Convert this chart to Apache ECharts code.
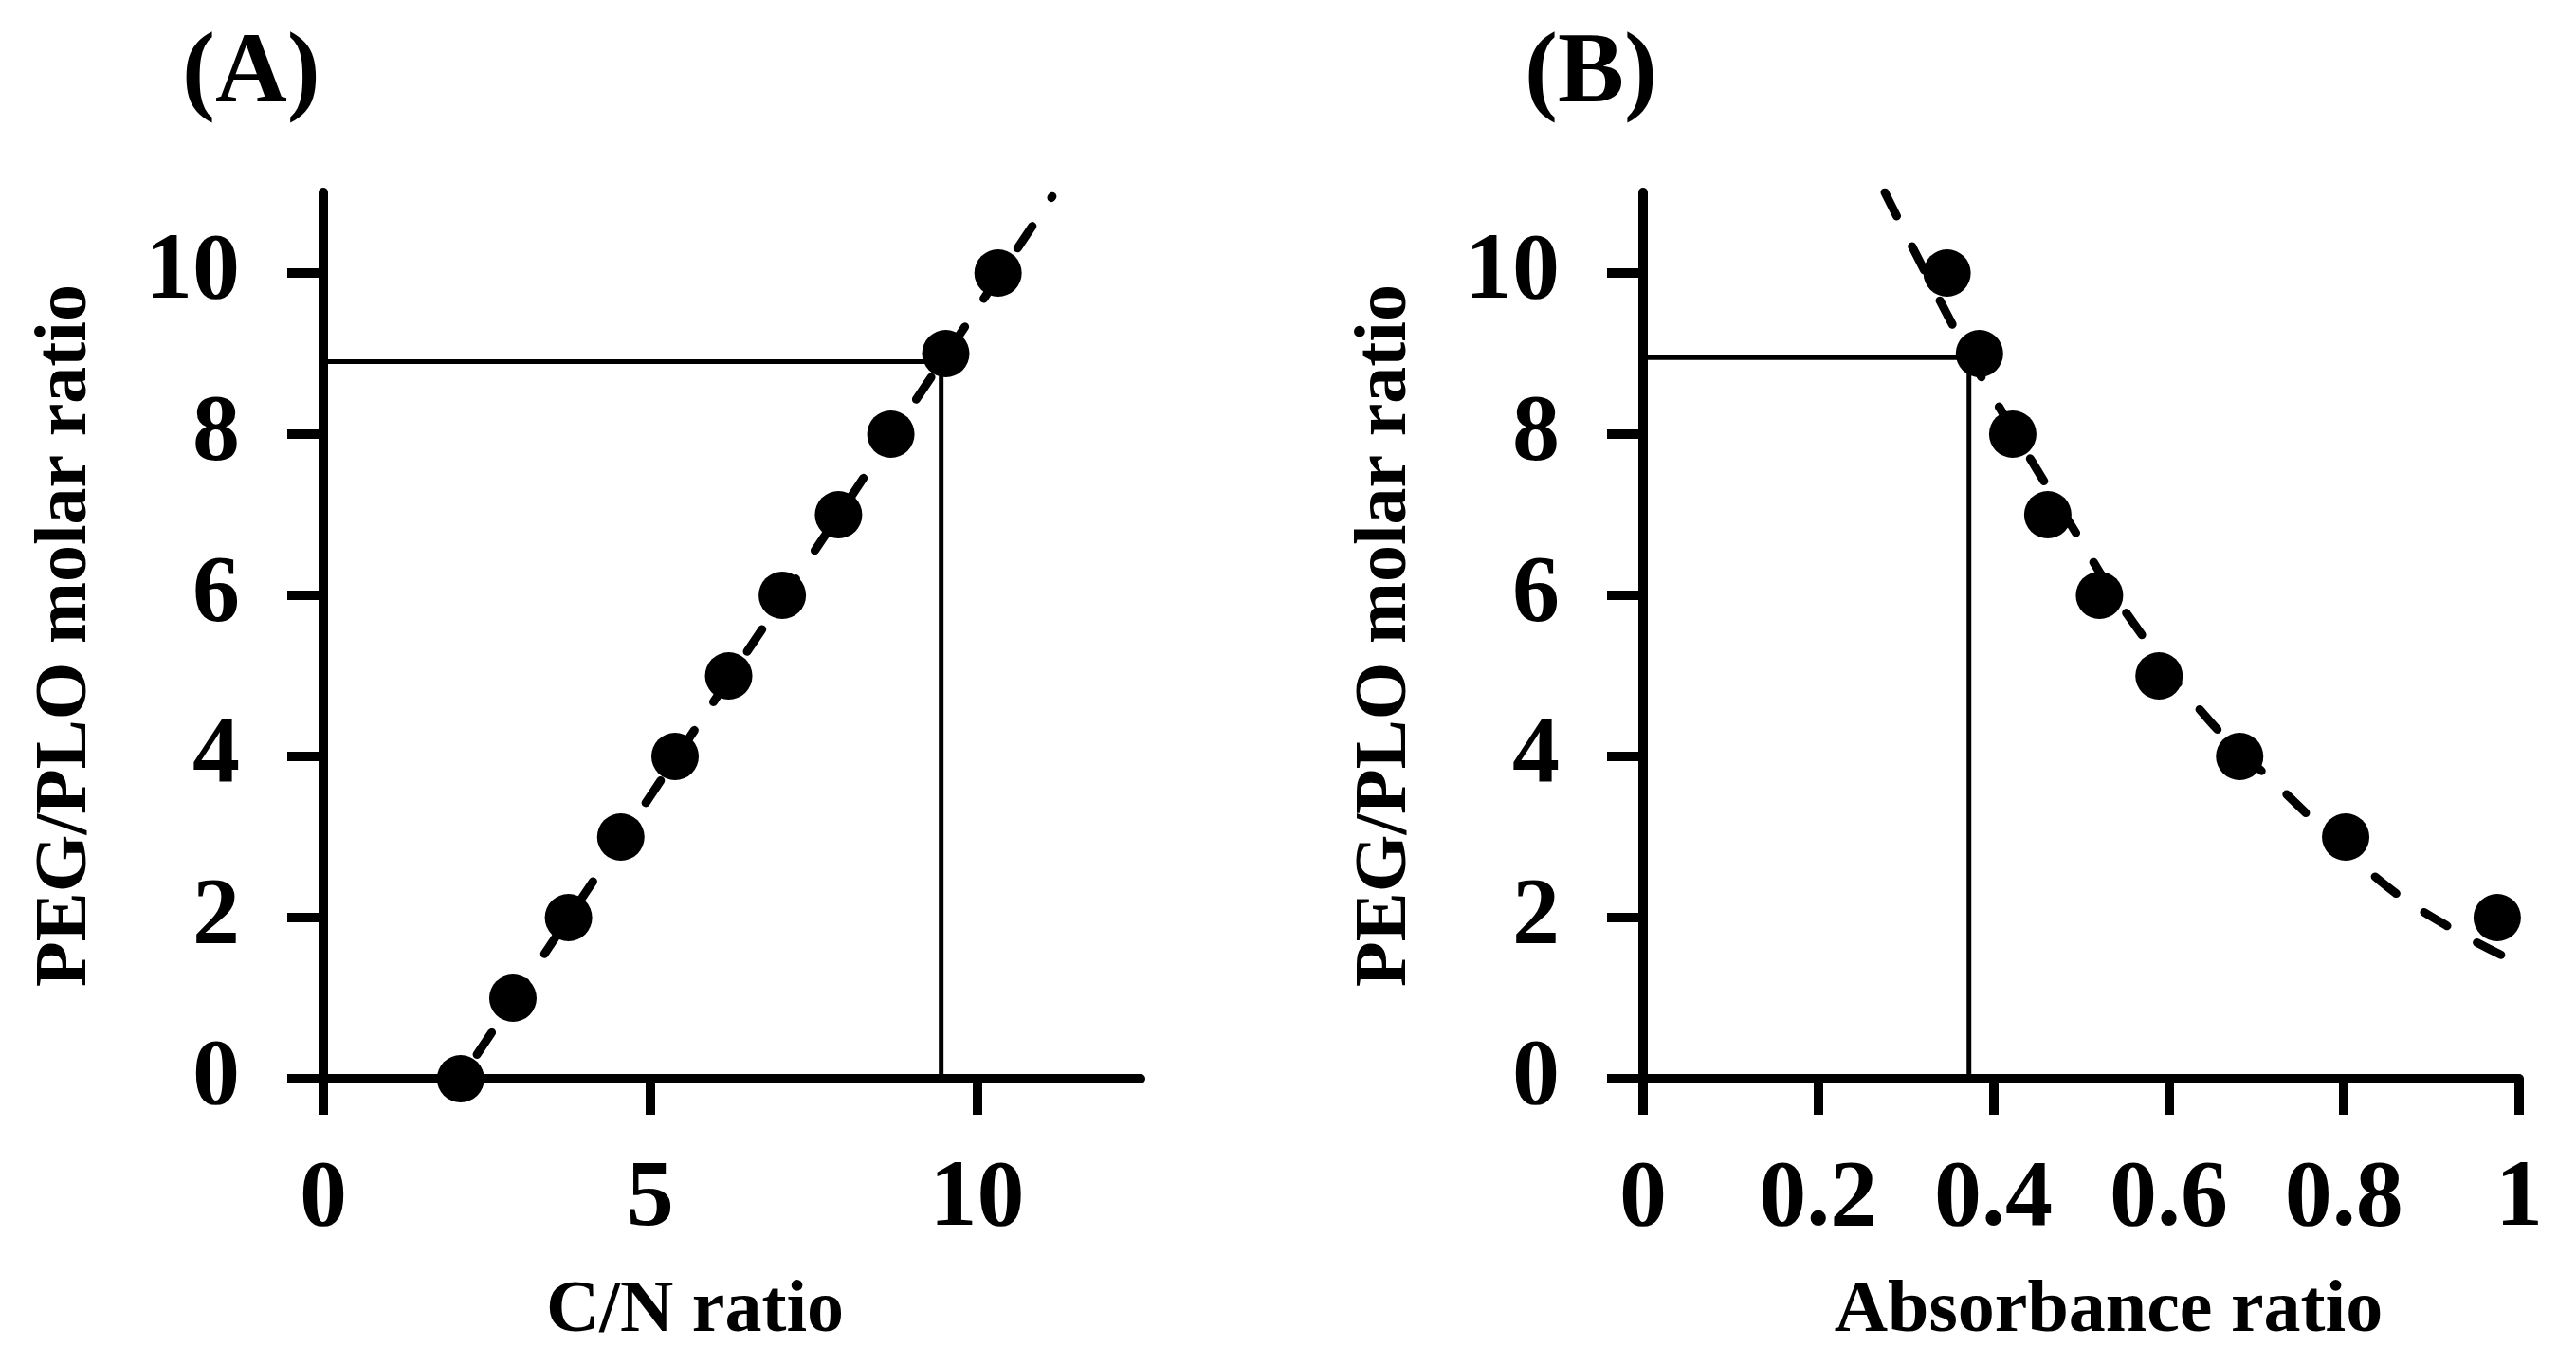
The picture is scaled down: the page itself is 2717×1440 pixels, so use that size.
<!DOCTYPE html>
<html>
<head>
<meta charset="utf-8">
<script src="https://cdn.jsdelivr.net/npm/echarts@6/dist/echarts.min.js"></script>
<style>
  html, body { margin: 0; padding: 0; background: #fff; }
  #chart { width: 2717px; height: 1440px; }
</style>
</head>
<body>
<div id="chart"></div>
<script>
// (A) C/N ratio vs molar ratio
const cnRatio = [2.1, 2.9, 3.75, 4.55, 5.38, 6.2, 7.02, 7.88, 8.68, 9.52, 10.32];
const molarA = [0, 1, 2, 3, 4, 5, 6, 7, 8, 9, 10];
const fitA = [[2.35, 0.3], [11.15, 10.95]];
const guideA = [[0, 8.9], [9.45, 8.9], [9.45, 0]];

// (B) absorbance ratio vs molar ratio
const absRatio = [0.347, 0.384, 0.422, 0.462, 0.521, 0.589, 0.681, 0.802, 0.975];
const molarB = [10, 9, 8, 7, 6, 5, 4, 3, 2];
const fitB = [[0.276, 11.0], [0.357, 9.28], [0.403, 8.4], [0.487, 6.9], [0.553, 5.76],
  [0.646, 4.45], [0.72, 3.68], [0.842, 2.45], [0.925, 1.85], [1.0, 1.43]];
const guideB = [[0, 8.95], [0.372, 8.95], [0.372, 0]];

// tick labels
const yTicks = [0, 2, 4, 6, 8, 10];
const xTicksA = [0, 5, 10];
const xTicksB = [0, 0.2, 0.4, 0.6, 0.8, 1];

const font = 'Liberation Serif';
const black = '#000';

function pairs(xs, ys) {
  return xs.map((x, i) => [x, ys[i]]);
}

function xAxisOf(idx, max, ticks, name, pad) {
  return {
    gridIndex: idx,
    type: 'value',
    min: 0,
    max: max,
    name: name,
    nameLocation: 'middle',
    nameGap: 207,
    nameTextStyle: { fontFamily: font, fontWeight: 'bold', fontSize: 78, color: black, padding: pad },
    axisLine: { show: true, lineStyle: { color: black, width: 10 } },
    axisTick: { show: true, customValues: ticks, length: 38, lineStyle: { color: black, width: 10 } },
    axisLabel: { customValues: ticks, margin: 78, fontFamily: font, fontWeight: 'bold', fontSize: 100, color: black },
    splitLine: { show: false }
  };
}

function yAxisOf(idx) {
  return {
    gridIndex: idx,
    type: 'value',
    min: 0,
    max: 11,
    name: 'PEG/PLO molar ratio',
    nameLocation: 'middle',
    nameRotate: 90,
    nameGap: 232,
    nameTextStyle: { fontFamily: font, fontWeight: 'bold', fontSize: 78, color: black },
    axisLine: { show: true, lineStyle: { color: black, width: 10 } },
    axisTick: { show: true, customValues: yTicks, length: 38, lineStyle: { color: black, width: 10 } },
    axisLabel: { customValues: yTicks, margin: 88, fontFamily: font, fontWeight: 'bold', fontSize: 100, color: black },
    splitLine: { show: false }
  };
}

function panelSeries(idx, guide, fit, pts) {
  return [
    {
      type: 'line',
      xAxisIndex: idx,
      yAxisIndex: idx,
      data: guide,
      symbol: 'none',
      lineStyle: { color: black, width: 5 },
      silent: true,
      z: 1
    },
    {
      type: 'line',
      xAxisIndex: idx,
      yAxisIndex: idx,
      data: fit,
      smooth: 0.4,
      symbol: 'none',
      lineStyle: { color: black, width: 9, type: [28, 36], cap: 'round' },
      silent: true,
      z: 2
    },
    {
      type: 'scatter',
      xAxisIndex: idx,
      yAxisIndex: idx,
      data: pts,
      symbol: 'circle',
      symbolSize: 50,
      itemStyle: { color: black, opacity: 1 },
      z: 3
    }
  ];
}

const chart = echarts.init(document.getElementById('chart'));

chart.setOption({
  backgroundColor: '#fff',
  animation: false,
  title: [
    { text: '(A)', left: 187, top: 22, textStyle: { fontFamily: font, fontWeight: 'bold', fontSize: 105, color: black } },
    { text: '(B)', left: 1603, top: 22, textStyle: { fontFamily: font, fontWeight: 'bold', fontSize: 105, color: black } }
  ],
  grid: [
    { left: 341, top: 203, width: 862, height: 935 },
    { left: 1733, top: 203, width: 924, height: 935 }
  ],
  xAxis: [
    xAxisOf(0, 12.5, xTicksA, 'C/N ratio', [0, 78, 0, 0]),
    xAxisOf(1, 1, xTicksB, 'Absorbance ratio', [0, 0, 0, 58])
  ],
  yAxis: [yAxisOf(0), yAxisOf(1)],
  series: [
    ...panelSeries(0, guideA, fitA, pairs(cnRatio, molarA)),
    ...panelSeries(1, guideB, fitB, pairs(absRatio, molarB))
  ]
});
</script>
</body>
</html>
